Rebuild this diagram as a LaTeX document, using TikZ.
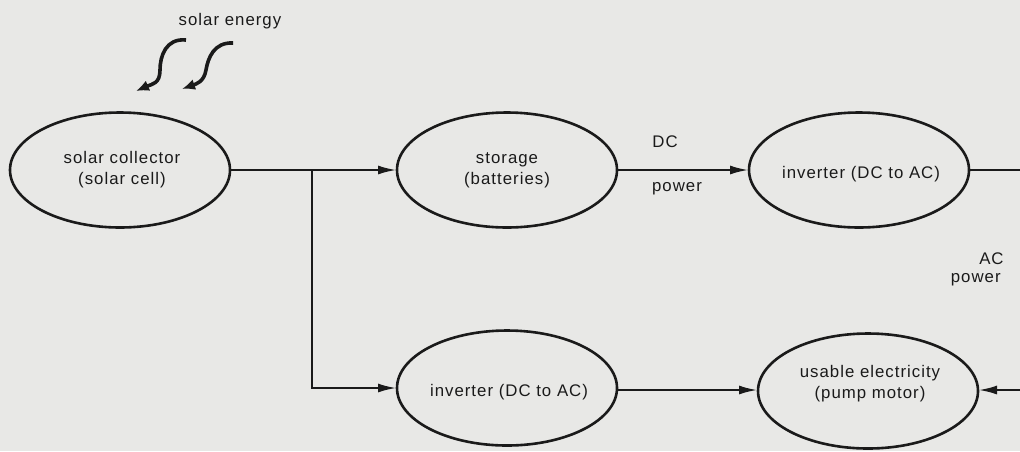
\documentclass[tikz,border=0pt]{standalone}
\usepackage{fontspec}
\setmainfont[LetterSpace=6]{Liberation Sans}
\usetikzlibrary{shapes.geometric,arrows.meta}
\definecolor{bg}{HTML}{E8E8E6}
\definecolor{ink}{HTML}{1A1A1A}
\begin{document}
\begin{tikzpicture}[x=0.5pt,y=-0.5pt,
  ell/.style={ellipse, draw=ink, line width=1.3pt, minimum width=110pt, minimum height=57.5pt, inner sep=0pt, outer sep=0pt},
  txt/.style={align=center, inner sep=0pt, text=ink, font=\fontsize{8.4pt}{10.5pt}\selectfont},
  conn/.style={draw=ink, line width=1.3pt},
  arr/.style={draw=ink, line width=1.3pt, -{Latex[length=9.5pt,width=4.5pt]}},
  sun/.style={draw=ink, line width=1.8pt, -{Latex[length=6.5pt,width=5.5pt]}}]
\fill[bg] (0,0) rectangle (1020,451);
\useasboundingbox (0,0) rectangle (1020,451);
% nodes
\node[ell] (coll) at (120,170) {};
\node[ell] (stor) at (507,170) {};
\node[ell] (inv1) at (859,170) {};
\node[ell] (inv2) at (507,388) {};
\node[ell] (use)  at (868,391) {};
\node[txt] (tcoll) at (122,170) {solar collector\\(solar cell)};
\node[txt] (tstor) at (507,170) {storage\\(batteries)};
\node[txt] (tinv1) at (861,174) {inverter (DC to AC)};
\node[txt] (tinv2) at (509,392) {inverter (DC to AC)};
\node[txt] (tuse)  at (870,384) {usable electricity\\(pump motor)};
% labels
\node[txt] (lsun) at (230,21) {solar energy};
\node[txt] (ldc) at (665,142) {DC};
\node[txt] (ldcp) at (677,189) {power};
\node[txt, anchor=east] (lac) at (1004,259) {AC};
\node[txt, anchor=east] (lacp) at (1001,280) {power};
% coordinates
\coordinate (j) at (312,170);
\coordinate (r1) at (1021,170);
\coordinate (r2) at (1021,390);
% connectors
\draw[arr] (coll.east) -- (stor.west);
\draw[arr] (j) |- (inv2.west);
\draw[arr] (stor.east) -- (inv1.west);
\draw[conn] (inv1.east) -- (r1);
\draw[arr] (inv2.east |- 0,390) -- (use.west |- 0,390);
\draw[arr] (r2) -- (use.east |- 0,390);
% solar energy arrows
\coordinate (s1) at (186,40);
\coordinate (e1) at (136,91);
\coordinate (s2) at (233,43);
\coordinate (e2) at (182,89);
\draw[sun] (s1) .. controls (166,38) and (160,56) .. (160,70) .. controls (160,84) and (152,84) .. (e1);
\draw[sun] (s2) .. controls (214,42) and (208,58) .. (206,70) .. controls (204,82) and (196,84) .. (e2);
\end{tikzpicture}
\end{document}
